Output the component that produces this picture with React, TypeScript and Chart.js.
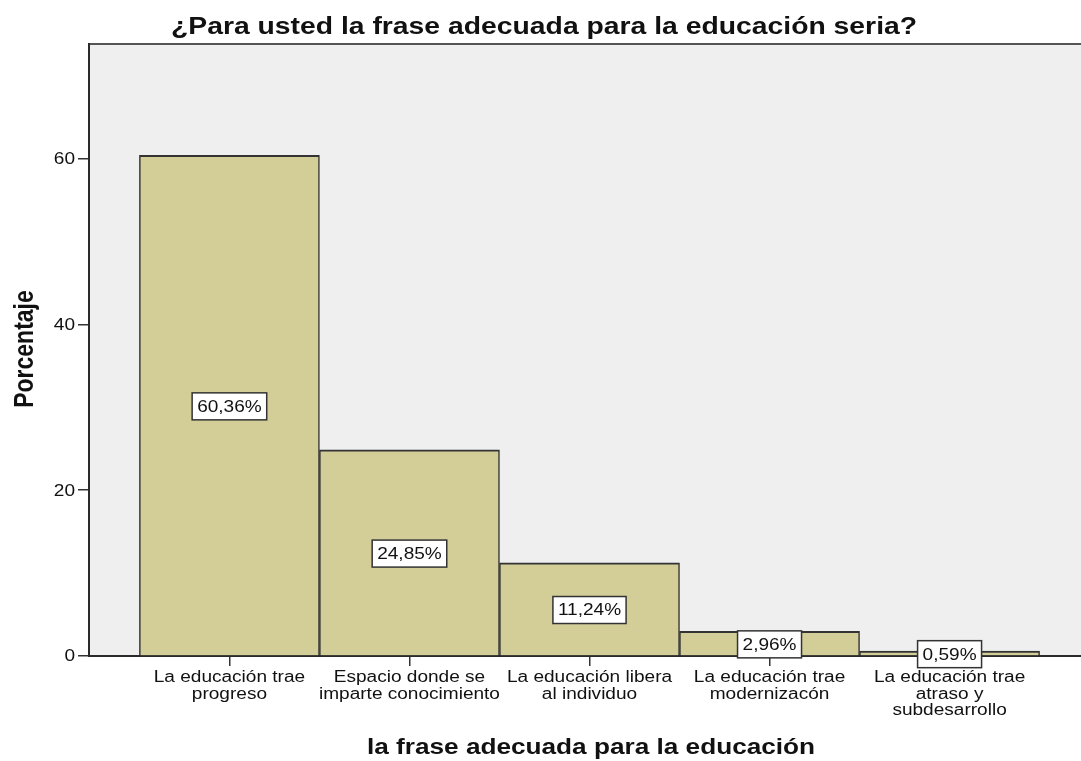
import React, { useEffect, useRef } from "react";
import { Chart, registerables } from "chart.js";

Chart.register(...registerables);

const TITLE = "¿Para usted la frase adecuada para la educación seria?";
const X_TITLE = "la frase adecuada para la educación";
const Y_TITLE = "Porcentaje";
const CATEGORIES: string[][] = [
  ["La educación trae", "progreso"],
  ["Espacio donde se", "imparte conocimiento"],
  ["La educación libera", "al individuo"],
  ["La educación trae", "modernizacón"],
  ["La educación trae", "atraso y", "subdesarrollo"],
];
const VALUES = [60.36, 24.85, 11.24, 2.96, 0.59];
const VALUE_LABELS = ["60,36%", "24,85%", "11,24%", "2,96%", "0,59%"];
const Y_TICKS = [0, 20, 40, 60];
const Y_MAX = 73.8;
const X_MIN = -0.78;
const X_MAX = 4.73;

const SX = 1.19;
const FONT_FAMILY = "'Liberation Sans', Arial, sans-serif";

function drawText(
  ctx: CanvasRenderingContext2D,
  text: string,
  x: number,
  y: number,
  font: string,
  align: CanvasTextAlign,
  baseline: CanvasTextBaseline,
  sx: number,
  rotate = 0
) {
  ctx.save();
  ctx.translate(x, y);
  ctx.scale(sx, 1);
  if (rotate) ctx.rotate(rotate);
  ctx.font = font;
  ctx.textAlign = align;
  ctx.textBaseline = baseline;
  ctx.fillStyle = "#111";
  ctx.fillText(text, 0, 0);
  ctx.restore();
}

const decorPlugin = {
  id: "spssDecor",
  beforeDraw(chart: any) {
    const { ctx, chartArea } = chart;
    ctx.save();
    ctx.fillStyle = "#efefef";
    ctx.fillRect(chartArea.left, chartArea.top, chartArea.right - chartArea.left, chartArea.bottom - chartArea.top);
    ctx.strokeStyle = "#555";
    ctx.lineWidth = 2;
    ctx.beginPath();
    ctx.moveTo(chartArea.left, chartArea.top);
    ctx.lineTo(chartArea.right, chartArea.top);
    ctx.stroke();
    ctx.restore();
  },
  afterDraw(chart: any) {
    const { ctx, chartArea, scales } = chart;
    const tickFont = `16px ${FONT_FAMILY}`;
    Y_TICKS.forEach((v) => {
      const py = scales.y.getPixelForValue(v);
      drawText(ctx, String(v), chartArea.left - 14, py + 1, tickFont, "right", "middle", SX);
    });
    CATEGORIES.forEach((lines, i) => {
      const px = scales.x.getPixelForValue(i);
      lines.forEach((line, j) => {
        drawText(ctx, line, px, 678 + j * 16.5, tickFont, "center", "middle", SX);
      });
    });
    drawText(ctx, TITLE, 544, 34, `bold 24px ${FONT_FAMILY}`, "center", "alphabetic", 1.18);
    drawText(ctx, X_TITLE, 591, 754, `bold 22px ${FONT_FAMILY}`, "center", "alphabetic", 1.19);
    drawText(ctx, Y_TITLE, 33, 349, `bold 23px ${FONT_FAMILY}`, "center", "alphabetic", 1.2, -Math.PI / 2);
  },
  afterDatasetsDraw(chart: any) {
    const { ctx } = chart;
    const meta = chart.getDatasetMeta(0);
    const font = `16px ${FONT_FAMILY}`;
    meta.data.forEach((bar: any, i: number) => {
      const cx = bar.x;
      const cy = (bar.y + bar.base) / 2 + 1;
      ctx.save();
      ctx.font = font;
      const tw = ctx.measureText(VALUE_LABELS[i]).width * SX;
      const w = tw + 10;
      const h = 27;
      ctx.fillStyle = "#ffffff";
      ctx.fillRect(cx - w / 2, cy - h / 2, w, h);
      ctx.strokeStyle = "#333";
      ctx.lineWidth = 1.5;
      ctx.strokeRect(cx - w / 2, cy - h / 2, w, h);
      ctx.restore();
      drawText(ctx, VALUE_LABELS[i], cx, cy + 1, font, "center", "middle", SX);
    });
  },
};

export default function App() {
  const canvasRef = useRef<HTMLCanvasElement | null>(null);

  useEffect(() => {
    const canvas = canvasRef.current;
    if (!canvas) return;
    const chart = new Chart(canvas, {
      type: "bar",
      data: {
        datasets: [
          {
            data: VALUES.map((v, i) => ({ x: i, y: v })),
            backgroundColor: "#d3ce98",
            borderColor: "#333333",
            borderWidth: { top: 2, left: 1.5, right: 1.5, bottom: 0 },
            borderSkipped: "start",
            barPercentage: 1,
            categoryPercentage: 1,
          },
        ],
      },
      plugins: [decorPlugin],
      options: {
        animation: false,
        responsive: false,
        devicePixelRatio: 1,
        layout: { padding: { top: 44, left: 0, right: 0, bottom: 0 } },
        plugins: {
          legend: { display: false },
          title: { display: false },
          tooltip: { enabled: false },
        },
        scales: {
          x: {
            type: "linear",
            min: X_MIN,
            max: X_MAX,
            offset: false,
            afterBuildTicks: (scale: any) => {
              scale.ticks = CATEGORIES.map((_, i) => ({ value: i }));
            },
            afterFit: (scale: any) => {
              scale.height = 105;
            },
            ticks: { display: false },
            grid: {
              display: true,
              offset: false,
              drawOnChartArea: false,
              drawTicks: true,
              tickLength: 10,
              color: "#333",
              lineWidth: 1.5,
            },
            border: { display: true, color: "#2a2a2a", width: 2 },
          },
          y: {
            type: "linear",
            min: 0,
            max: Y_MAX,
            afterBuildTicks: (scale: any) => {
              scale.ticks = Y_TICKS.map((v) => ({ value: v }));
            },
            afterFit: (scale: any) => {
              scale.width = 89;
            },
            ticks: { display: false },
            grid: {
              display: true,
              offset: false,
              drawOnChartArea: false,
              drawTicks: true,
              tickLength: 11,
              color: "#333",
              lineWidth: 1.5,
            },
            border: { display: true, color: "#2a2a2a", width: 2 },
          },
        },
      },
    } as any);
    return () => chart.destroy();
  }, []);

  return (
    <div style={{ position: "absolute", left: 0, top: 0, width: 1081, height: 761, background: "#fff" }}>
      <canvas ref={canvasRef} width={1081} height={761} style={{ display: "block" }} />
    </div>
  );
}
